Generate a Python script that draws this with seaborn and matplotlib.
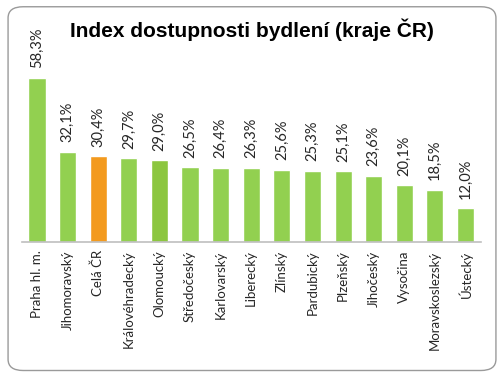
import matplotlib
matplotlib.use("Agg")
import matplotlib.pyplot as plt
import seaborn as sns
import pandas as pd
from matplotlib.patches import FancyBboxPatch

categories = ["Praha hl. m.", "Jihomoravský", "Celá ČR", "Královéhradecký", "Olomoucký",
              "Středočeský", "Karlovarský", "Liberecký", "Zlínský", "Pardubický",
              "Plzeňský", "Jihočeský", "Vysočina", "Moravskoslezský", "Ústecký"]
values = [58.3, 32.1, 30.4, 29.7, 29.0, 26.5, 26.4, 26.3, 25.6, 25.3, 25.1, 23.6, 20.1, 18.5, 12.0]
colors = ["#92D050", "#92D050", "#F39A1E", "#92D050", "#8CC63F", "#92D050", "#92D050", "#92D050",
          "#92D050", "#92D050", "#92D050", "#92D050", "#92D050", "#92D050", "#92D050"]
title = "Index dostupnosti bydlení (kraje ČR)"

sns.set_style("white")
plt.rcParams['font.family'] = ['Lato', 'DejaVu Sans']

df = pd.DataFrame({"kraj": categories, "index": values})

fig = plt.figure(figsize=(5.04, 3.75), dpi=100)
fig.patch.set_facecolor("white")

# rounded frame
frame = FancyBboxPatch((0.016, 0.012), 0.968, 0.97, boxstyle="round,pad=0,rounding_size=0.03",
                       transform=fig.transFigure, facecolor="none", edgecolor="#9a9a9a",
                       linewidth=1.0, zorder=5)
fig.add_artist(frame)

ax = fig.add_axes([0.043, 0.3547, 0.911, 0.525])
ax.patch.set_alpha(0)
sns.barplot(data=df, x="kraj", y="index", hue="kraj", palette=colors, legend=False,
            width=0.56, ax=ax, saturation=1)
ax.set_xlim(-0.5, len(categories) - 0.5)
ax.set_ylim(0, 70)
ax.set_yticks([])
ax.set_xlabel("")
ax.set_ylabel("")
for s in ["top", "right", "left"]:
    ax.spines[s].set_visible(False)
ax.spines["bottom"].set_color("#bfbfbf")
ax.spines["bottom"].set_linewidth(1.2)

ax.set_xticks(range(len(categories)))
ax.set_xticklabels(categories, rotation=90, fontsize=9.5, color="#262626")
ax.tick_params(axis="x", length=0, pad=6)

for i, v in enumerate(values):
    ax.annotate(f"{v:.1f}%".replace(".", ","), (i, v), xytext=(0, 7),
                textcoords="offset points", rotation=90, ha="center", va="bottom",
                fontsize=10.5, color="#262626")

fig.text(0.5, 0.92, title, ha="center", va="center", fontsize=15, fontweight="bold",
         family=["Liberation Sans", "DejaVu Sans"], color="black")

fig.savefig("out.png", dpi=100)
